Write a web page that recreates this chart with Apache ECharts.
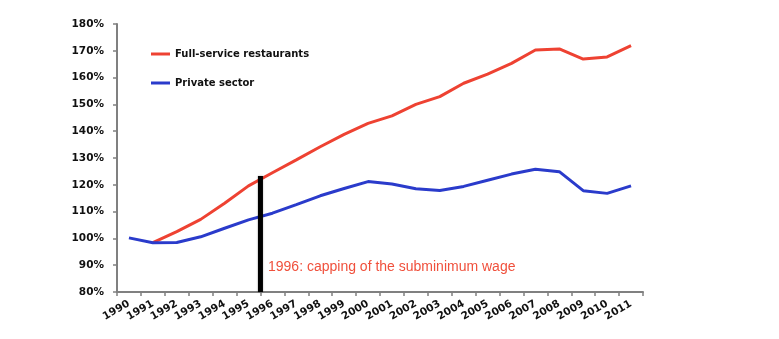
<!DOCTYPE html>
<html>
<head>
<meta charset="utf-8">
<script src="https://cdn.jsdelivr.net/npm/echarts@6/dist/echarts.min.js"></script>
<style>html,body{margin:0;padding:0;background:#fff}#c{width:779px;height:339px}</style>
</head>
<body>
<div id="c"></div>
<script>
const years = ['1990','1991','1992','1993','1994','1995','1996','1997','1998','1999','2000','2001','2002','2003','2004','2005','2006','2007','2008','2009','2010','2011'];
const fullService = [null, 98.4, 102.5, 107.1, 113.1, 119.6, 124.5, 129.3, 134.2, 138.8, 142.9, 145.7, 150.0, 152.9, 157.9, 161.3, 165.3, 170.3, 170.7, 166.9, 167.7, 171.9];
const privateSector = [100.2, 98.4, 98.5, 100.6, 103.8, 106.9, 109.4, 112.6, 115.9, 118.6, 121.2, 120.3, 118.5, 117.9, 119.4, 121.7, 124.0, 125.8, 124.9, 117.8, 116.8, 119.6];
const yTicks = [80, 90, 100, 110, 120, 130, 140, 150, 160, 170, 180];
const markerYear = 1995.5;
const markerTop = 123.3;
const annotation = '1996: capping of the subminimum wage';

const chart = echarts.init(document.getElementById('c'));
const labelFont = {fontFamily: 'DejaVu Sans', fontWeight: 'bold', fontSize: 10.5, color: '#111'};
chart.setOption({
  animation: false,
  grid: {left: 117, right: 136, top: 24, bottom: 47, containLabel: false},
  legend: {
    orient: 'vertical', left: 146, top: 44, itemGap: 19,
    itemWidth: 19, itemHeight: 3, icon: 'rect',
    textStyle: {fontFamily: 'DejaVu Sans', fontWeight: 'bold', fontSize: 10, color: '#111'},
    data: ['Full-service restaurants', 'Private sector']
  },
  xAxis: [{
    type: 'category', data: years, boundaryGap: true,
    axisLine: {lineStyle: {color: '#808080', width: 2}},
    axisTick: {show: true, alignWithLabel: false, length: 4, lineStyle: {color: '#808080', width: 1.5}},
    axisLabel: Object.assign({rotate: 30, margin: 11, interval: 0}, labelFont)
  }, {
    type: 'value', min: 1989.5, max: 2011.5, show: false
  }],
  yAxis: {
    type: 'value', min: yTicks[0], max: yTicks[yTicks.length-1], interval: 10,
    splitLine: {show: false},
    axisLine: {show: true, lineStyle: {color: '#808080', width: 2}},
    axisTick: {show: true, length: 4, lineStyle: {color: '#808080', width: 1.5}},
    axisLabel: Object.assign({margin: 13, formatter: v => v + '%'}, labelFont)
  },
  series: [{
    name: 'Full-service restaurants', type: 'line', data: fullService, symbol: 'none',
    lineStyle: {color: '#EE4232', width: 3}, itemStyle: {color: '#EE4232'}, z: 3
  }, {
    name: 'Private sector', type: 'line', data: privateSector, symbol: 'none',
    lineStyle: {color: '#2A3BCB', width: 3}, itemStyle: {color: '#2A3BCB'}, z: 3
  }, {
    name: 'marker', type: 'line', xAxisIndex: 1, symbol: 'none',
    data: [[markerYear, yTicks[0]], [markerYear, markerTop]],
    lineStyle: {color: '#000', width: 5, shadowColor: 'rgba(0,0,0,0.35)', shadowBlur: 2, cap: 'butt'},
    z: 4, silent: true
  }],
  graphic: [{
    type: 'text', left: 268, top: 260,
    style: {text: annotation, fill: '#F0503C', font: '14px "Liberation Sans", Arial, sans-serif'}
  }]
});
</script>
</body>
</html>
